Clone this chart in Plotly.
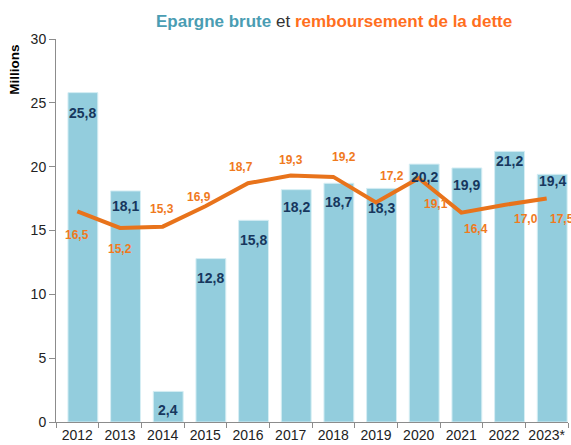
import plotly.graph_objects as go

# ---- data ----
years = ["2012", "2013", "2014", "2015", "2016", "2017", "2018", "2019", "2020", "2021", "2022", "2023*"]
epargne_brute = [25.8, 18.1, 2.4, 12.8, 15.8, 18.2, 18.7, 18.3, 20.2, 19.9, 21.2, 19.4]
remboursement = [16.5, 15.2, 15.3, 16.9, 18.7, 19.3, 19.2, 17.2, 19.1, 16.4, 17.0, 17.5]
y_ticks = [0, 5, 10, 15, 20, 25, 30]

def fr(v):
    return f"{v:.1f}".replace(".", ",")

# ---- styles / label placement (pixels) ----
BAR_COLOR = "#93CDDD"
BAR_LABEL_COLOR = "#17375E"
LINE_COLOR = "#E8731B"
LINE_LABEL_COLOR = "#F07A1E"
FONT = "Arial, Liberation Sans, sans-serif"

bar_offset = -0.22
bar_width = 0.70
bar_label_drop = [20, 15, 19, 19.5, 20, 17.4, 18.5, 19.7, 13, 17, 9.4, 6.7]
line_label_dx = [0, 0, -1, -6.5, -7, 0, 11, 16, 17, 15, 22, 15]
line_label_dy = [24, 21, -17.5, -9.5, -16, -16, -20, -26.5, 26, 16.6, 13.6, 20]

fig = go.Figure()

fig.add_trace(go.Bar(
    x=years, y=epargne_brute,
    width=bar_width, offset=bar_offset,
    marker=dict(color=BAR_COLOR, line=dict(color="#D6EEF4", width=1)),
    hoverinfo="skip", showlegend=False,
))

fig.add_trace(go.Scatter(
    x=years, y=remboursement, mode="lines",
    line=dict(color=LINE_COLOR, width=4),
    hoverinfo="skip", showlegend=False,
))

annotations = []
bar_center = bar_offset + bar_width / 2
for i, v in enumerate(epargne_brute):
    annotations.append(dict(
        x=i + bar_center, y=v, xref="x", yref="y",
        text=f"<b>{fr(v)}</b>", showarrow=False,
        yshift=-bar_label_drop[i], yanchor="middle", xanchor="center",
        font=dict(family=FONT, size=14, color=BAR_LABEL_COLOR),
    ))
for i, v in enumerate(remboursement):
    annotations.append(dict(
        x=i, y=v, xref="x", yref="y",
        text=f"<b>{fr(v)}</b>", showarrow=False,
        xshift=line_label_dx[i], yshift=-line_label_dy[i],
        yanchor="middle", xanchor="center",
        font=dict(family=FONT, size=12, color=LINE_LABEL_COLOR),
    ))
annotations.append(dict(
    x=-0.080, y=0.92, xref="paper", yref="paper",
    text="<b>Millions</b>", textangle=-90, showarrow=False,
    xanchor="center", yanchor="middle",
    font=dict(family=FONT, size=13.5, color="#000000"),
))

fig.update_layout(
    width=571, height=445,
    margin=dict(l=56, r=3, t=39, b=23),
    paper_bgcolor="white", plot_bgcolor="white",
    font=dict(family=FONT, size=14, color="#222222"),
    title=dict(
        text=("<b><span style='color:#4A9DB3'>Epargne brute</span></b>"
              "<span style='color:#333333'> et </span>"
              "<b><span style='color:#FF6F1E'>remboursement de la dette</span></b>"),
        x=156 / 571, xanchor="left", xref="container",
        y=1 - 21 / 445, yanchor="middle", yref="container",
        font=dict(family=FONT, size=17),
    ),
    xaxis=dict(
        type="category", range=[-0.5, len(years) - 0.5],
        showline=True, linecolor="#8C8C8C", linewidth=1,
        ticks="outside", tickson="boundaries", ticklen=5, tickcolor="#8C8C8C",
        showgrid=False, zeroline=False, tickangle=0, automargin=False,
        tickfont=dict(family=FONT, size=14, color="#222222"),
    ),
    yaxis=dict(
        range=[0, 30], tickvals=y_ticks,
        showline=True, linecolor="#8C8C8C", linewidth=1,
        ticks="outside", ticklen=6, tickcolor="#8C8C8C",
        showgrid=False, zeroline=False, automargin=False,
        tickfont=dict(family=FONT, size=14, color="#222222"),
    ),
    annotations=annotations,
    bargap=0.3,
)

fig.write_html(
    "out.html",
    config={"displayModeBar": False},
    post_script="document.body.style.margin='0';document.body.style.overflow='hidden';",
)
